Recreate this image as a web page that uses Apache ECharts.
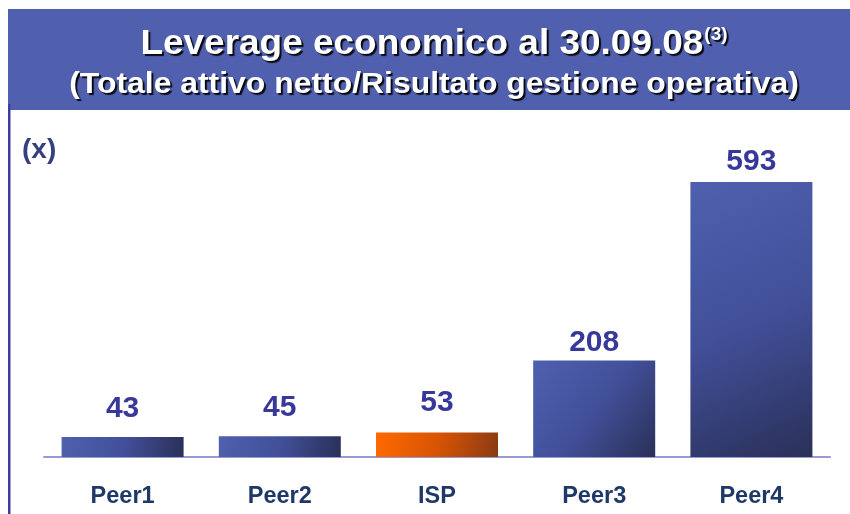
<!DOCTYPE html>
<html>
<head>
<meta charset="utf-8">
<script src="https://cdn.jsdelivr.net/npm/echarts@6/dist/echarts.min.js"></script>
<style>html,body{margin:0;padding:0;background:#fff;}#c{width:850px;height:514px;}</style>
</head>
<body>
<div id="c"></div>
<script>
const categories = ['Peer1', 'Peer2', 'ISP', 'Peer3', 'Peer4'];
const values = [43, 45, 53, 208, 593];
const highlight = 'ISP';
const titleMain = 'Leverage economico al 30.09.08';
const titleSup = '(3)';
const titleSub = '(Totale attivo netto/Risultato gestione operativa)';
const unitLabel = '(x)';

const labelGap = [13, 13, 15, 3, 5];

const blueGrad = new echarts.graphic.LinearGradient(0, 0, 1, 1, [
  { offset: 0, color: '#4F60AE' },
  { offset: 0.5, color: '#42509A' },
  { offset: 1, color: '#2A3058' }
]);
const orangeGrad = new echarts.graphic.LinearGradient(0, 0, 1, 1, [
  { offset: 0, color: '#FF6A00' },
  { offset: 0.5, color: '#D85405' },
  { offset: 1, color: '#8A3A12' }
]);

const chart = echarts.init(document.getElementById('c'), null, { renderer: 'canvas' });
const font = '"Liberation Sans", Arial, sans-serif';
const shadow = { textShadowColor: 'rgba(0,0,0,0.9)', textShadowOffsetX: 2, textShadowOffsetY: 2, textShadowBlur: 1 };

chart.setOption({
  animation: false,
  graphic: [
    { type: 'rect', shape: { x: 8, y: 9, width: 842, height: 101 }, style: { fill: '#5060AE' }, z: 0 },
    { type: 'rect', shape: { x: 8, y: 104, width: 2.5, height: 410 }, style: { fill: '#3A40A0' }, z: 0 },
    {
      type: 'text', x: 434, y: 44, scaleX: 1.056, z: 5,
      style: {
        text: '{m|' + titleMain + '}{s|' + titleSup + '}',
        align: 'center', verticalAlign: 'middle',
        rich: {
          m: Object.assign({ fontFamily: font, fontWeight: 'bold', fontSize: 35, fill: '#fff' }, shadow),
          s: Object.assign({ fontFamily: font, fontWeight: 'bold', fontSize: 18, fill: '#fff', verticalAlign: 'top', padding: [0, 0, 16, 1] }, shadow)
        }
      }
    },
    {
      type: 'text', x: 434, y: 85, scaleX: 1.10, z: 5,
      style: Object.assign({
        text: titleSub, align: 'center', verticalAlign: 'middle',
        font: 'bold 29px ' + font, fill: '#fff'
      }, shadow)
    },
    {
      type: 'text', left: 22, top: 136,
      style: { text: unitLabel, font: 'bold 28px ' + font, fill: '#383F7E' }
    }
  ],
  grid: { left: 44, right: 20, top: 182, bottom: 57, containLabel: false },
  xAxis: {
    type: 'category',
    data: categories,
    axisLine: { show: true, lineStyle: { color: '#9A9AD2', width: 2 } },
    axisTick: { show: false },
    axisLabel: { fontFamily: font, fontWeight: 'bold', fontSize: 23.5, color: '#1E3868', margin: 28 }
  },
  yAxis: {
    type: 'value', min: 0, max: 593, show: false,
    splitLine: { show: false }
  },
  series: [{
    type: 'bar',
    barWidth: 122,
    z: 1,
    data: values.map((v, i) => ({
      value: v,
      itemStyle: { color: categories[i] === highlight ? orangeGrad : blueGrad },
      label: { distance: labelGap[i] }
    })),
    label: {
      show: true, position: 'top',
      fontFamily: font, fontWeight: 'bold', fontSize: 30, color: '#38389A'
    }
  }]
});
</script>
</body>
</html>
